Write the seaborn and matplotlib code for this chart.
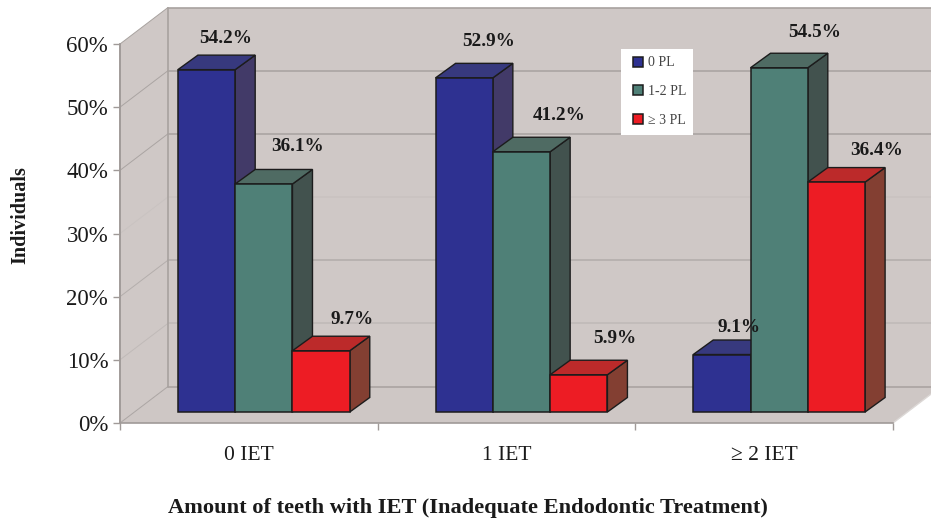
import matplotlib
matplotlib.use("Agg")
import matplotlib.pyplot as plt
from matplotlib.patches import Polygon
from matplotlib.transforms import Affine2D, IdentityTransform
import pandas as pd
import seaborn as sns

categories = ["0 IET", "1 IET", "≥ 2 IET"]
series_names = ["0 PL", "1-2 PL", "≥ 3 PL"]
pl_0 = [54.2, 52.9, 9.1]
pl_1_2 = [36.1, 41.2, 54.5]
pl_3 = [9.7, 5.9, 36.4]
y_ticks = [0, 10, 20, 30, 40, 50, 60]

front_colours = ["#2e3191", "#4f8077", "#ed1c24"]
top_colours = ["#37397e", "#4f6b63", "#bc2a2a"]
side_colours = ["#423a68", "#42524e", "#833f32"]
wall = "#cfc8c6"
line_grey = "#a8a29f"
# 30% line is nearly washed out in the scan
grid_colours = ["#aaa4a2", "#c0bab8", "#b4aeac", "#c9c3c1", "#aaa4a2", "#aaa4a2", "#a8a29f"]

# label offsets from the bar's top centre, in px
label_offsets = {
    "0 PL": [(19, 31), (24, 36), (17, 27)],
    "1-2 PL": [(34, 37), (38, 36), (35, 35)],
    "≥ 3 PL": [(31, 31), (36, 36), (40, 32)],
}

sns.set_style("white")
plt.rcParams["font.family"] = ["Liberation Serif", "DejaVu Serif"]

df = pd.DataFrame({
    "IET": categories * 3,
    "PL": [n for n in series_names for _ in categories],
    "value": pl_0 + pl_1_2 + pl_3,
})

W, H = 931, 520
fig = plt.figure(figsize=(W / 100, H / 100), dpi=100, facecolor="white")
ax = fig.add_axes([120 / W, (H - 423) / H, 773 / W, 379 / H])

sns.barplot(data=df, x="IET", y="value", hue="PL", order=categories, hue_order=series_names,
            palette=front_colours, saturation=1, width=0.667, gap=0, errorbar=None,
            edgecolor="#1c1c1c", linewidth=1.1, ax=ax, zorder=5)
ax.set_xlim(-0.5, 2.5)
ax.set_ylim(0, 60)
ax.patch.set_visible(False)

to_px = ax.transData.transform


def add_poly(points, **kw):
    p = Polygon(points, closed=True, transform=IdentityTransform(), clip_on=False, **kw)
    ax.add_patch(p)
    return p


# the 3D box: walls and floor sit behind everything
wall_dx, wall_dy = 48, 36.5
x0, x1 = -0.5, 2.5
(lx, by), (rx, ty) = to_px((x0, 0)), to_px((x1, 60))
fig_right = W
add_poly([(lx + wall_dx, by + wall_dy), (fig_right, by + wall_dy), (fig_right, ty + wall_dy), (lx + wall_dx, ty + wall_dy)],
         facecolor=wall, edgecolor="none", zorder=0)
add_poly([(lx, by), (lx + wall_dx, by + wall_dy), (lx + wall_dx, ty + wall_dy), (lx, ty)],
         facecolor=wall, edgecolor="none", zorder=0)
add_poly([(lx, by), (rx, by), (rx + wall_dx, by + wall_dy), (lx + wall_dx, by + wall_dy)],
         facecolor="#cec7c5", edgecolor="none", zorder=0.5)

for tick, colour in zip(y_ticks, grid_colours):
    _, py = to_px((x0, tick))
    ax.plot([lx + wall_dx, fig_right], [py + wall_dy, py + wall_dy], color=colour, lw=1.2,
            transform=IdentityTransform(), clip_on=False, zorder=1)
    ax.plot([lx, lx + wall_dx], [py, py + wall_dy], color=colour, lw=0.7,
            transform=IdentityTransform(), clip_on=False, zorder=1)
# wall outlines
ax.plot([lx, lx], [by, ty], color=line_grey, lw=1.2, transform=IdentityTransform(), clip_on=False, zorder=1.5)
ax.plot([lx + wall_dx, lx + wall_dx], [by + wall_dy, ty + wall_dy], color=line_grey, lw=1.2,
        transform=IdentityTransform(), clip_on=False, zorder=1.5)
ax.plot([rx, rx + wall_dx], [by, by + wall_dy], color="#dcd8d6", lw=1,
        transform=IdentityTransform(), clip_on=False, zorder=1.5)

# bars stand part way into the box, then get a top and a side
bar_dx, bar_dy = 15, 11
depth_dx, depth_dy = 20, 14.5
shift = ax.transData + Affine2D().translate(bar_dx, bar_dy)

bars = []
for i, container in enumerate(ax.containers):
    for j, bar in enumerate(container.patches):
        bars.append((bar.get_x(), i, j, bar))
bars.sort(key=lambda b: b[0])

z = 3
for _, i, j, bar in bars:
    xa, xb = bar.get_x(), bar.get_x() + bar.get_width()
    h = bar.get_height()
    (pa, pb), (pc, pd) = shift.transform((xa, 0)), shift.transform((xb, h))
    add_poly([(pc, pb), (pc + depth_dx, pb + depth_dy), (pc + depth_dx, pd + depth_dy), (pc, pd)],
             facecolor=side_colours[i], edgecolor="#1c1c1c", lw=1.0, zorder=z)
    add_poly([(pa, pd), (pa + depth_dx, pd + depth_dy), (pc + depth_dx, pd + depth_dy), (pc, pd)],
             facecolor=top_colours[i], edgecolor="#1c1c1c", lw=1.0, zorder=z + 0.1)
    bar.set_transform(shift)
    bar.set_clip_on(False)
    bar.set_zorder(z + 0.2)
    z += 1

    ox, oy = label_offsets[series_names[i]][j]
    ax.annotate(f"{h:.1f}%", xy=((pa + pc) / 2 + ox, pd + oy), xycoords="figure pixels",
                ha="center", va="center", fontsize=13.8, fontweight="bold", color="#1a1a1a", zorder=50,
                annotation_clip=False)

# axes
sns.despine(ax=ax, top=True, right=True)
for side in ("left", "bottom"):
    ax.spines[side].set_color("#a09a98")
    ax.spines[side].set_linewidth(1.2)
    ax.spines[side].set_zorder(2)
ax.set_yticks(y_ticks)
ax.set_yticklabels([f"{t}%" for t in y_ticks], fontsize=16.5, color="#1a1a1a")
ax.tick_params(axis="y", left=True, length=5, width=1, color="#a09a98", pad=3.5)
ax.set_xticks([0, 1, 2])
ax.set_xticklabels(categories, fontsize=15.5, color="#1a1a1a")
ax.set_xticks([-0.5, 0.5, 1.5, 2.5], minor=True)
ax.tick_params(axis="x", which="major", bottom=False, length=0, pad=16.5)
ax.tick_params(axis="x", which="minor", bottom=True, length=5, width=1, color="#a09a98")

ax.set_xlabel("Amount of teeth with IET (Inadequate Endodontic Treatment)", fontsize=16.1, fontweight="bold",
              color="#1a1a1a", va="center")
ax.xaxis.set_label_coords((467.5 - 120) / 773, (423 - 508.5) / 379)
ax.set_ylabel("Individuals", fontsize=14.5, fontweight="bold", color="#1a1a1a", va="center")
ax.yaxis.set_label_coords((20 - 120) / 773, (423 - 215) / 379)

# white legend box is drawn separately, the swatches sit well inside it
add_poly([(620.5, H - 49), (693, H - 49), (693, H - 135), (620.5, H - 135)],
         facecolor="white", edgecolor="none", zorder=39)
handles = [c.patches[0] for c in ax.containers]
leg = ax.legend(handles, series_names, loc="upper left", bbox_to_anchor=(633 / W, (H - 56.5) / H),
                bbox_transform=fig.transFigure, frameon=False, fontsize=10, labelcolor="#444444",
                handlelength=0.72, handleheight=0.72, handletextpad=0.35, labelspacing=1.12,
                borderpad=0, borderaxespad=0)
leg.set_zorder(40)

fig.savefig("out.png", dpi=100)
